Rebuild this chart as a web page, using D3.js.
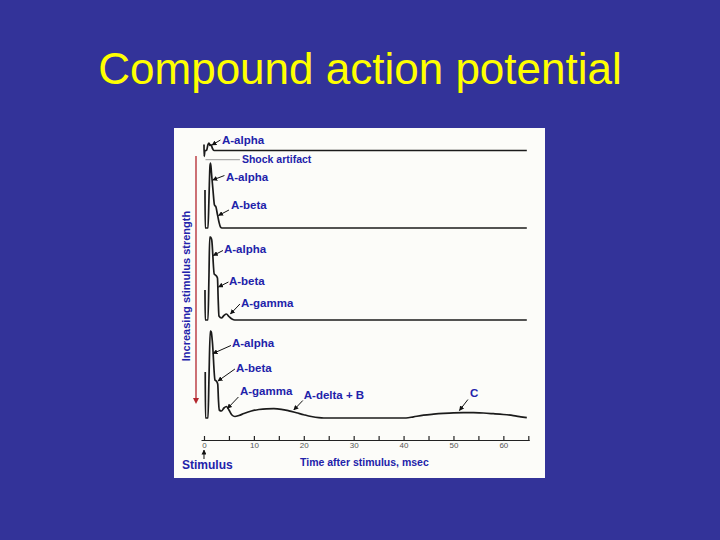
<!DOCTYPE html>
<html><head><meta charset="utf-8">
<script src="https://cdn.jsdelivr.net/npm/d3@7"></script>
<style>html,body{margin:0;padding:0;background:#333399;}svg{display:block}</style>
</head><body><svg id="c" width="720" height="540"></svg>
<script>
// ---------- data ----------
const title = "Compound action potential";
const xLabel = "Time after stimulus, msec";
const yLabel = "Increasing stimulus strength";
const stimulusLabel = "Stimulus";
const shockLabel = "Shock artifact";
const tickValues = [0,5,10,15,20,25,30,35,40,45,50,55,60,65];
const tickLabels = ["0","10","20","30","40","50","60"];

// trace 1: weakest stimulus (A-alpha only)
const trace1Time = [0,0.03,0.2,0.5,0.8,1.0,1.2,1.4,1.7,2.0,64.7];
const trace1Amp  = [6,-6,0,0,6,7.5,5,6,2,0,0];
// trace 2: A-alpha + A-beta
const trace2Time = [0.2,0.24,0.8,1.0,1.2,1.32,1.5,1.8,2.1,2.4,2.6,3.0,3.3,3.6,64.7];
const trace2Amp  = [38,0,0,30,62,65,55,38,23,21,16,6,1,0,0];
// trace 3: A-alpha + A-beta + A-gamma
const trace3Time = [0.2,0.24,0.8,1.0,1.15,1.3,1.55,2.05,2.3,2.7,2.85,3.0,3.5,4.0,4.5,5.0,5.6,6.2,64.7];
const trace3Amp  = [30,0,0,45,83,83,80,46,45,42,20,4,2,4.5,6,3.5,1,0,0];
// trace 4: maximal stimulus (A-alpha ... A-delta + B, C)
const trace4Time = [0.25,0.29,0.8,1.0,1.25,1.45,1.7,2.2,2.45,2.75,2.9,3.05,3.5,4.0,4.5,5.0,5.6,6.2,7.0,8.0,9.5,11,12.5,14,15.5,17,18.5,20,21.5,23,24,40.5,42,44,46,48,50,52,54,56,58,60,62,63.5,64.7];
const trace4Amp  = [46,0,0,40,87,86,75,38,37,34,18,8,7,10,11.5,8,3,1.5,2.5,4.5,7,8.5,9.2,9.3,8.7,7.2,5.3,3.3,1.5,0.3,0,0,1.2,2.8,3.8,4.6,5.2,5.4,5.3,5,4.3,3.5,2.4,1.2,0.3];

const traceTimes = [trace1Time, trace2Time, trace3Time, trace4Time];
const traceAmps  = [trace1Amp, trace2Amp, trace3Amp, trace4Amp];

// annotation labels: trace index, text, label anchor (t, amp), pointer tail & tip (t, amp)
const annoTrace = [0,1,1,2,2,2,3,3,3,3,3];
const annoText  = ["A-alpha","A-alpha","A-beta","A-alpha","A-beta","A-gamma","A-alpha","A-beta","A-gamma","A-delta + B","C"];
const annoT     = [3.6,4.4,5.4,4.0,5.0,7.4,5.6,6.4,7.2,20.0,53.3];
const annoV     = [7,47,19,67,35,13,71,46,23,19,21];
const tailT     = [3.3,4.1,5.0,3.8,4.9,7.2,5.4,6.2,6.9,19.8,52.9];
const tailV     = [10.5,52.5,18,69.5,38,16,72.5,49,21,17.5,18.5];
const tipT      = [1.6,1.75,2.9,1.85,2.9,5.3,1.8,2.8,4.7,18.0,51.2];
const tipV      = [5.5,48,12.5,64.5,33,6,64.5,37,9.5,8,7.5];

// ---------- layout ----------
const svg = d3.select("#c");
const W = 720, H = 540;
const blue = "#333399", ink = "#2222aa";
const stackOffset = [289.5, 212, 120, 22];

svg.append("rect").attr("width", W).attr("height", H).attr("fill", blue);
svg.append("text").attr("x", 360).attr("y", 84).attr("text-anchor", "middle")
  .attr("font-family", "Liberation Sans, Arial, sans-serif").attr("font-size", 44)
  .attr("fill", "#ffff00").text(title);

// white figure panel
svg.append("rect").attr("x", 174).attr("y", 128).attr("width", 371).attr("height", 350)
  .attr("fill", "#fcfcf9");

const x = d3.scaleLinear().domain([-0.6, 65.2]).range([201, 529.3]);
const y = d3.scaleLinear().domain([0, 300]).range([440, 140]);

const defs = svg.append("defs");
defs.append("marker").attr("id", "ah").attr("viewBox", "0 0 10 10")
  .attr("refX", 9).attr("refY", 5).attr("markerWidth", 5).attr("markerHeight", 5)
  .attr("markerUnits", "userSpaceOnUse").attr("orient", "auto")
  .append("path").attr("d", "M0,0L10,5L0,10z").attr("fill", "#111");

// axis
const axis = d3.axisBottom(x).tickValues(tickValues).tickSize(-4).tickSizeOuter(0).tickPadding(2)
  .tickFormat(d => tickLabels.includes(String(d)) ? String(d) : "");
const gA = svg.append("g").attr("transform", `translate(0,${y(0)})`).call(axis);
gA.select(".domain").attr("stroke", "#222").attr("stroke-width", 1.2);
gA.selectAll(".tick line").attr("stroke", "#222").attr("stroke-width", 1.2);
gA.selectAll(".tick text").attr("fill", "#555").attr("font-size", 8)
  .attr("font-family", "Liberation Sans, Arial, sans-serif");

// traces
const line = d3.line().x(d => x(d[0])).y(d => y(d[1])).curve(d3.curveMonotoneX);
traceTimes.forEach((ts, i) => {
  const pts = ts.map((t, j) => [t, stackOffset[i] + traceAmps[i][j]]);
  svg.append("path").attr("d", line(pts)).attr("fill", "none")
    .attr("stroke", "#1b1b1b").attr("stroke-width", 1.7).attr("stroke-linejoin", "round");
});

// shock artifact pointer
svg.append("line").attr("x1", x(0.3)).attr("x2", x(7.2))
  .attr("y1", y(stackOffset[0] - 9.2)).attr("y2", y(stackOffset[0] - 9.2))
  .attr("stroke", "#999").attr("stroke-width", 1);
svg.append("text").attr("x", x(7.6)).attr("y", y(stackOffset[0] - 12.5))
  .attr("font-family", "Liberation Sans, Arial, sans-serif").attr("font-weight", "bold")
  .attr("font-size", 10.5).attr("fill", ink).text(shockLabel);

// annotations
annoText.forEach((txt, i) => {
  const off = stackOffset[annoTrace[i]];
  svg.append("line").attr("x1", x(tailT[i])).attr("y1", y(off + tailV[i]))
    .attr("x2", x(tipT[i])).attr("y2", y(off + tipV[i]))
    .attr("stroke", "#111").attr("stroke-width", 1).attr("marker-end", "url(#ah)");
  svg.append("text").attr("x", x(annoT[i])).attr("y", y(off + annoV[i]))
    .attr("font-family", "Liberation Sans, Arial, sans-serif").attr("font-weight", "bold")
    .attr("font-size", 11.5).attr("fill", ink).text(txt);
});

// red "increasing stimulus" arrow
svg.append("line").attr("x1", 196).attr("x2", 196).attr("y1", 156).attr("y2", 399)
  .attr("stroke", "#b3262d").attr("stroke-width", 1.3);
svg.append("path").attr("d", "M193,398L199,398L196,404z").attr("fill", "#b3262d");
svg.append("text").attr("transform", "translate(190,286) rotate(-90)").attr("text-anchor", "middle")
  .attr("font-family", "Liberation Sans, Arial, sans-serif").attr("font-weight", "bold")
  .attr("font-size", 11).attr("fill", ink).text(yLabel);

// stimulus marker
svg.append("line").attr("x1", x(0)).attr("x2", x(0)).attr("y1", 459).attr("y2", 450)
  .attr("stroke", "#111").attr("stroke-width", 1).attr("marker-end", "url(#ah)");
svg.append("text").attr("x", 182).attr("y", 469)
  .attr("font-family", "Liberation Sans, Arial, sans-serif").attr("font-weight", "bold")
  .attr("font-size", 12).attr("fill", ink).text(stimulusLabel);
svg.append("text").attr("x", 300).attr("y", 465.5)
  .attr("font-family", "Liberation Sans, Arial, sans-serif").attr("font-weight", "bold")
  .attr("font-size", 10.5).attr("fill", ink).text(xLabel);
</script></body></html>
